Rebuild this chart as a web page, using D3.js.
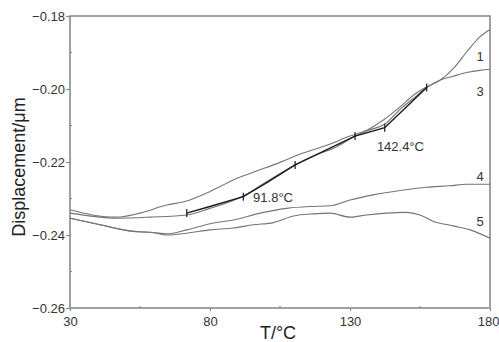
<!DOCTYPE html>
<html>
<head>
<meta charset="utf-8">
<script src="https://cdn.jsdelivr.net/npm/d3@7"></script>
<style>
  html, body { margin: 0; padding: 0; background: #fff; }
  svg { display: block; font-family: "Liberation Sans", Arial, sans-serif; }
</style>
</head>
<body>
<div id="chart"></div>
<script>
// ── Data ──────────────────────────────────────────────────────────────────
const xTicks = [30, 80, 130, 180];
const xMinor = [55, 105, 155];
const yTicks = [-0.18, -0.20, -0.22, -0.24, -0.26];
const yMinor = [-0.19, -0.21, -0.23, -0.25];

// [T, displacement]
const curve1 = [
  [30, -0.2331], [38, -0.2345], [46.7, -0.2351], [55, -0.2340], [64.5, -0.2318],
  [71.7, -0.2307], [80, -0.2281], [88.3, -0.2249], [95.5, -0.2228], [105, -0.2201],
  [112, -0.2179], [121.7, -0.2154], [130, -0.2129], [136, -0.2113], [141.9, -0.2085],
  [147.9, -0.2049], [152.6, -0.2017], [157.4, -0.1994], [162.1, -0.1976],
  [166.9, -0.1944], [171.7, -0.1898], [176.4, -0.1857], [180, -0.1837],
];
const curve3 = [
  [30, -0.2340], [38.3, -0.2349], [46.7, -0.2354], [58.6, -0.2351], [71.7, -0.2345],
  [80, -0.2327], [91.9, -0.2293], [100.2, -0.2254], [110.4, -0.2208], [119.3, -0.2176],
  [124, -0.2163], [131.8, -0.2129], [137, -0.2112], [142.5, -0.2096], [148, -0.2055],
  [152.6, -0.2026], [157.4, -0.1996], [162.1, -0.1976], [166.9, -0.1965],
  [171.7, -0.1955], [176.4, -0.1949], [180, -0.1946],
];
const curve4 = [
  [30, -0.2354], [40.7, -0.2372], [52.6, -0.2390], [59.8, -0.2393], [64.5, -0.2397],
  [71.7, -0.2386], [80, -0.2369], [88.3, -0.2359], [97.9, -0.2340], [107.4, -0.2327],
  [115.7, -0.2322], [122.9, -0.2320], [130, -0.2304], [138.3, -0.2290], [147.9, -0.2278],
  [157.4, -0.2269], [165.7, -0.2265], [171.7, -0.2261], [180, -0.2261],
];
const curve5 = [
  [30, -0.2354], [40.7, -0.2372], [52.6, -0.2390], [59.8, -0.2394], [64.5, -0.2400],
  [71.7, -0.2395], [80, -0.2386], [88.3, -0.2381], [95.5, -0.2372], [102.6, -0.2366],
  [109.8, -0.2348], [116.9, -0.2342], [122.9, -0.2340], [130, -0.2351], [136, -0.2345],
  [143, -0.2340], [150.2, -0.2338], [155, -0.2345], [159.8, -0.2363], [166.9, -0.2375],
  [172.9, -0.2386], [180, -0.2409],
];
// curve 2: fitted segments with break markers
const curve2 = [
  [71.7, -0.2340], [80, -0.2322], [91.9, -0.2295], [100, -0.2258], [110.4, -0.2208],
  [131.8, -0.2129], [142.4, -0.2106], [157.4, -0.1996],
];
const markers2 = [71.7, 91.9, 110.4, 131.8, 142.4, 157.4];

const curveLabels = [
  { text: '1', x: 176.5, y: -0.1923 },
  { text: '3', x: 176.5, y: -0.2019 },
  { text: '4', x: 176.5, y: -0.2251 },
  { text: '5', x: 176.5, y: -0.2374 },
];
const tempLabels = [
  { text: '91.8°C', x: 95.4, y: -0.2309 },
  { text: '142.4°C', x: 139.6, y: -0.2170 },
];

// ── Layout ────────────────────────────────────────────────────────────────
const W = 499, H = 342;
const M = { left: 70, right: 9, top: 16, bottom: 34 };

const x = d3.scaleLinear().domain([30, 180]).range([M.left, W - M.right]);
const y = d3.scaleLinear().domain([-0.26, -0.18]).range([H - M.bottom, M.top]);

const svg = d3.select('#chart').append('svg')
  .attr('width', W).attr('height', H);

const AXIS = '#8a8a8a';
const LINE = '#747474';

// frame
svg.append('rect')
  .attr('x', x(30)).attr('y', y(-0.18))
  .attr('width', x(180) - x(30)).attr('height', y(-0.26) - y(-0.18))
  .attr('fill', 'none').attr('stroke', AXIS).attr('stroke-width', 1.6);

// x axis
const xAxis = svg.append('g')
  .attr('transform', `translate(0,${y(-0.26)})`)
  .call(d3.axisBottom(x).tickValues(xTicks).tickSize(3).tickFormat(d3.format('d')));
xAxis.select('.domain').remove();
xAxis.selectAll('line').attr('stroke', AXIS).attr('stroke-width', 1.2);
xAxis.selectAll('text').attr('font-size', 13).attr('fill', '#333').attr('dy', '0.9em')
  .filter(d => d === 180).attr('text-anchor', 'end').attr('x', 9);

svg.append('g').selectAll('line').data(xMinor).join('line')
  .attr('x1', d => x(d)).attr('x2', d => x(d))
  .attr('y1', y(-0.26)).attr('y2', y(-0.26) - 2)
  .attr('stroke', AXIS).attr('stroke-width', 1.2);

// y axis
const yAxis = svg.append('g')
  .attr('transform', `translate(${x(30)},0)`)
  .call(d3.axisLeft(y).tickValues(yTicks).tickSize(4).tickFormat(d => d3.format('.2f')(d)));
yAxis.select('.domain').remove();
yAxis.selectAll('line').attr('stroke', AXIS).attr('stroke-width', 1.2);
yAxis.selectAll('text').attr('font-size', 13).attr('fill', '#333').attr('x', -5);

svg.append('g').selectAll('line').data(yMinor).join('line')
  .attr('x1', x(30)).attr('x2', x(30) + 2)
  .attr('y1', d => y(d)).attr('y2', d => y(d))
  .attr('stroke', AXIS).attr('stroke-width', 1.2);

// axis titles
svg.append('text')
  .attr('x', 278).attr('y', H - 3)
  .attr('text-anchor', 'middle').attr('font-size', 18).attr('fill', '#222')
  .text('T/°C');
svg.append('text')
  .attr('transform', `translate(25,${y(-0.22) + 5}) rotate(-90)`)
  .attr('text-anchor', 'middle').attr('font-size', 18).attr('fill', '#222')
  .text('Displacement/μm');

// curves
const line = d3.line().x(d => x(d[0])).y(d => y(d[1])).curve(d3.curveMonotoneX);

[curve1, curve3, curve4, curve5].forEach(c => {
  svg.append('path').datum(c)
    .attr('fill', 'none').attr('stroke', LINE).attr('stroke-width', 1.1)
    .attr('d', line);
});

svg.append('path').datum(curve2)
  .attr('fill', 'none').attr('stroke', '#1a1a1a').attr('stroke-width', 1.5)
  .attr('d', d3.line().x(d => x(d[0])).y(d => y(d[1])));

const seg = d3.scaleLinear().domain(curve2.map(d => d[0])).range(curve2.map(d => d[1]));
svg.append('g').selectAll('line').data(markers2).join('line')
  .attr('x1', d => x(d)).attr('x2', d => x(d))
  .attr('y1', d => y(seg(d)) - 4).attr('y2', d => y(seg(d)) + 4)
  .attr('stroke', '#1a1a1a').attr('stroke-width', 1.2);

// labels
svg.append('g').selectAll('text').data(curveLabels).join('text')
  .attr('x', d => x(d.x)).attr('y', d => y(d.y))
  .attr('text-anchor', 'middle').attr('font-size', 13).attr('fill', '#333')
  .text(d => d.text);
svg.append('g').selectAll('text').data(tempLabels).join('text')
  .attr('x', d => x(d.x)).attr('y', d => y(d.y))
  .attr('font-size', 13).attr('fill', '#333')
  .text(d => d.text);
</script>
</body>
</html>
